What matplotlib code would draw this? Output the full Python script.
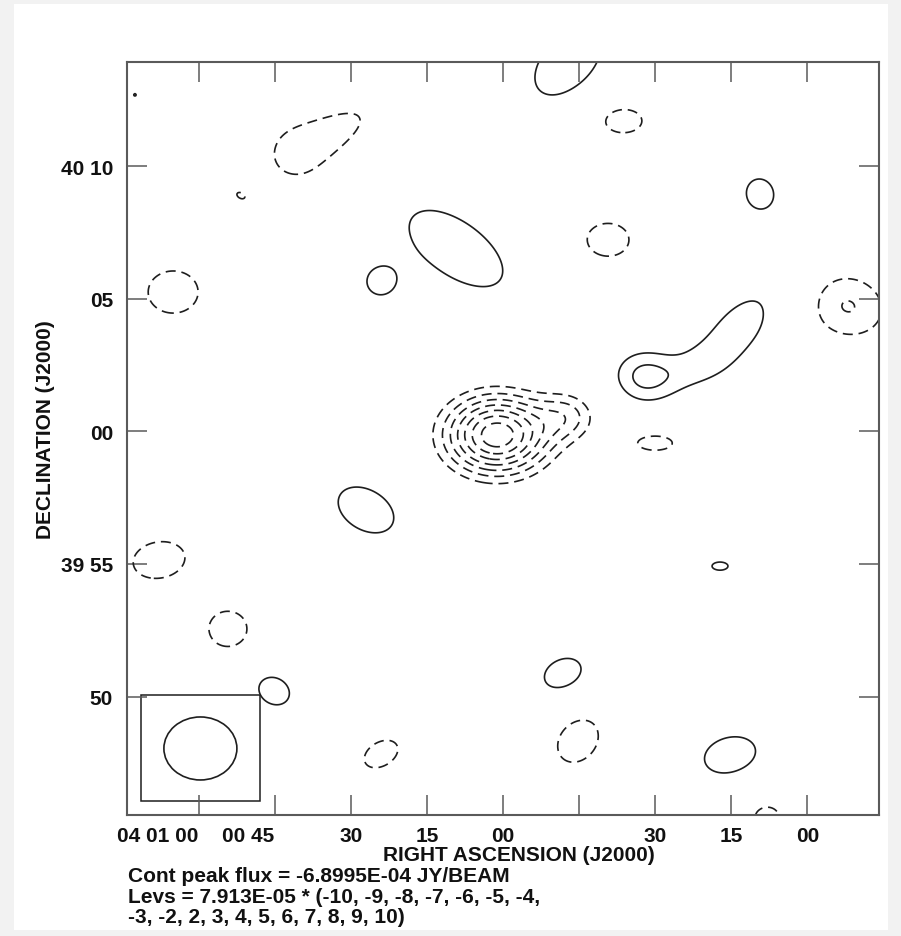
import numpy as np
import matplotlib.pyplot as plt
from matplotlib.patches import Ellipse, Rectangle

# Contour map around RA 04 00 00, Dec +40 00 00 (J2000)
LEV_UNIT = 7.913e-05          # Jy/beam
PEAK_FLUX = -6.8995e-04       # Jy/beam
lev_mult = [-10, -9, -8, -7, -6, -5, -4, -3, -2, 2, 3, 4, 5, 6, 7, 8, 9, 10]

ra_tick_sec = [60, 45, 30, 15, 0, -15, -30, -45, -60]
ra_tick_labels = ['04 01 00', '00 45', '30', '15', '00', '', '30', '15', '00']
dec_tick_arcmin = [10, 5, 0, -5, -10]
dec_tick_labels = ['40 10', '05', '00', '39 55', '50']

# restoring beam (arcmin) and its position in the corner
beam_major = 2.755
beam_minor = 2.377
beam_x, beam_y = 11.42, -11.96

# gaussian components: east / north offsets (arcmin), amplitude (in LEV_UNIT),
# sigma along / across the axis (arcmin), axis angle (deg, ccw from west)
src_x = [13.89, 7.70, 5.96, 9.92, 12.45, 4.64, 1.81, -2.45, -4.53, -9.70,
         -3.96, -12.98, -5.30, -8.94, -7.43, -5.74, -8.19, 5.17, 12.98, 10.38,
         8.64, 4.60, -2.26, -2.83, -8.57, -9.96, 0.226, -2.50]
src_y = [12.70, 10.52, 11.53, 8.89, 5.26, 5.64, 6.92, 13.94, 11.72, 8.96,
         7.23, 4.74, 2.09, 3.94, 2.45, -0.43, -5.08, -2.96, -4.85, -7.45,
         -9.79, -12.17, -9.13, -11.68, -12.21, -14.55, -0.132, 0.60]
src_amp = [2.03, -2.2, -1.4, -1.40, -2.9, 2.6, 2.9, 2.9, -2.9, 2.9,
           -2.9, -3.08, 3.15, 2.6, 1.0, -2.9, 2.3, 2.9, -2.9, -2.9,
           2.9, -2.9, 2.9, -2.9, 2.9, -2.3, PEAK_FLUX / LEV_UNIT, -2.7]
src_sa = [0.30, 1.90, 1.20, 0.35, 1.09, 0.64, 2.41, 1.75, 0.83, 0.66,
          0.92, 1.42, 0.98, 2.00, 0.95, 0.79, 0.57, 1.31, 1.14, 0.83,
          0.70, 0.79, 0.85, 1.01, 1.14, 0.86, 1.41, 0.85]
src_sb = [0.30, 1.80, 0.50, 0.22, 0.92, 0.62, 1.18, 1.05, 0.525, 0.59,
          0.72, 1.14, 0.85, 0.95, 0.57, 0.33, 0.29, 0.875, 0.79, 0.77,
          0.57, 0.52, 0.61, 0.79, 0.77, 0.75, 1.07, 0.70]
src_ang = [0, 0, 30, -30, 0, 0, -35, 45, 0, 105,
           0, -15, 0, 45, 20, 0, 0, -30, 10, 0,
           -30, 30, 25, 50, 15, 0, 0, 0]

plt.rcParams['font.family'] = ['Liberation Sans', 'DejaVu Sans']
plt.rcParams['font.weight'] = 'bold'

W, H = 901, 937
X_LIM = (14.19, -14.19)
Y_LIM = (-14.47, 13.94)
ARCMIN_PER_SEC = 15 * np.cos(np.radians(40.0)) / 60

# build the map from the components
gx = np.linspace(X_LIM[0], X_LIM[1], 760)
gy = np.linspace(Y_LIM[0], Y_LIM[1], 760)
GX, GY = np.meshgrid(gx, gy)
img = np.zeros_like(GX)
for x0, y0, amp, sa, sb, ang in zip(src_x, src_y, src_amp, src_sa, src_sb, src_ang):
    u = -(GX - x0)
    v = GY - y0
    t = np.radians(ang)
    ua = u * np.cos(t) + v * np.sin(t)
    va = -u * np.sin(t) + v * np.cos(t)
    img += amp * LEV_UNIT * np.exp(-0.5 * ((ua / sa) ** 2 + (va / sb) ** 2))

levels = np.array(lev_mult) * LEV_UNIT

fig = plt.figure(figsize=(W / 100, H / 100), dpi=100)
fig.patch.set_facecolor('#f2f2f2')
fig.add_artist(Rectangle((14 / W, 6 / H), (888 - 14) / W, (932 - 6) / H,
                         transform=fig.transFigure, facecolor='white',
                         edgecolor='none', zorder=-5))

ax = fig.add_axes([127 / W, 1 - 816 / H, 752 / W, 753 / H])
ax.set_xlim(*X_LIM)
ax.set_ylim(*Y_LIM)

line_col = '#1e1e1e'
cs_neg = ax.contour(GX, GY, img, levels=levels[levels < 0], colors=line_col,
                    linewidths=1.2)
cs_neg.set_linestyle((0, (6, 3.5)))
ax.contour(GX, GY, img, levels=levels[levels > 0], colors=line_col,
           linewidths=1.2, linestyles='solid')

# beam in its box
ax.add_patch(Ellipse((beam_x, beam_y), beam_major, beam_minor, angle=0,
                     facecolor='none', edgecolor=line_col, lw=1.2))
ax.add_patch(Rectangle((beam_x - 2.245, beam_y - 2.0), 4.49, 4.0,
                       facecolor='none', edgecolor=line_col, lw=1.1))

ax.set_xticks(np.array(ra_tick_sec) * ARCMIN_PER_SEC)
ax.set_xticklabels(ra_tick_labels)
ax.set_yticks(dec_tick_arcmin)
ax.set_yticklabels(dec_tick_labels)
for lab in ax.get_xticklabels()[:2]:
    lab.set_ha('right')

frame_col = '#5a5a5a'
ax.tick_params(direction='in', length=14.4, width=1.1, color=frame_col,
               top=True, right=True, labelsize=15, labelcolor='#111111')
ax.tick_params(axis='x', pad=8)
ax.tick_params(axis='y', pad=10)
for sp in ax.spines.values():
    sp.set_color(frame_col)
    sp.set_linewidth(1.5)


def fx(px):
    return px / W


def fy(py):
    return 1 - py / H


fig.text(fx(519), fy(856), 'RIGHT ASCENSION (J2000)', ha='center', va='center',
         fontsize=15, color='#111111')
fig.text(fx(46), fy(430), 'DECLINATION (J2000)', ha='center', va='center',
         rotation=90, fontsize=15, color='#111111')

footer = [
    f'Cont peak flux = {PEAK_FLUX:.4E} JY/BEAM',
    f'Levs = {LEV_UNIT:.3E} * (' + ', '.join(str(m) for m in lev_mult[:7]) + ',',
    ', '.join(str(m) for m in lev_mult[7:]) + ')',
]
for i, line in enumerate(footer):
    fig.text(fx(128), fy(877 + 20.5 * i), line, ha='left', va='center',
             fontsize=15, color='#111111')

fig.savefig('out.png', dpi=100, facecolor=fig.get_facecolor())
